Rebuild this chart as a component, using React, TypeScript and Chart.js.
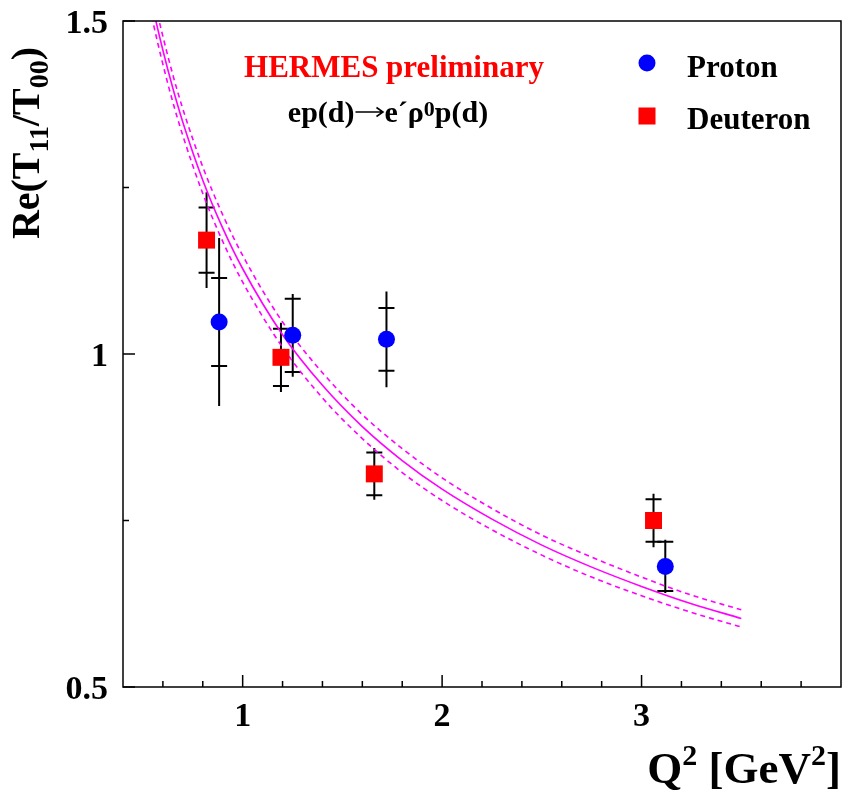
import React, { useEffect, useRef } from 'react';
import { Chart, registerables } from 'chart.js';

Chart.register(...registerables);

// ---- data ----
const protonQ2 = [0.882, 1.251, 1.721, 3.119];
const protonVal = [1.048, 1.028, 1.022, 0.681];
const protonStat = [0.066, 0.055, 0.047, 0.037];
const protonTot = [0.126, 0.062, 0.072, 0.040];

const deutQ2 = [0.819, 1.192, 1.660, 3.060];
const deutVal = [1.171, 0.995, 0.820, 0.750];
const deutStat = [0.049, 0.043, 0.032, 0.032];
const deutTot = [0.072, 0.052, 0.039, 0.040];

const curveQ2 = [0.5, 0.55, 0.6, 0.65, 0.7, 0.8, 0.9, 1.0, 1.2, 1.4, 1.6, 1.8, 2.0, 2.25, 2.5, 2.75, 3.0, 3.25, 3.5];
const curveFit = [1.595, 1.520, 1.456, 1.399, 1.348, 1.261, 1.189, 1.128, 1.029, 0.953, 0.891, 0.840, 0.797, 0.752, 0.713, 0.680, 0.651, 0.625, 0.603];
const curveUpper = [1.616, 1.541, 1.477, 1.419, 1.368, 1.281, 1.209, 1.148, 1.048, 0.972, 0.909, 0.858, 0.814, 0.768, 0.728, 0.695, 0.665, 0.638, 0.616];
const curveLower = [1.573, 1.499, 1.435, 1.378, 1.328, 1.241, 1.169, 1.108, 1.010, 0.934, 0.873, 0.822, 0.780, 0.736, 0.698, 0.665, 0.637, 0.612, 0.590];

const xTickLabels = [1, 2, 3];
const xMinorTicks = [0.6, 0.8, 1.2, 1.4, 1.6, 1.8, 2.2, 2.4, 2.6, 2.8, 3.2, 3.4, 3.6, 3.8];
const yTickLabels = [0.5, 1, 1.5];
const yMinorTicks = [0.75, 1.25];

const FONT = '"Liberation Serif", "Times New Roman", serif';
const BLUE = '#0000ff';
const RED = '#ff0000';
const MAGENTA = '#ff00ff';

type Seg = { t: string; size: number; dy: number; arrow?: number };

function segWidth(ctx: CanvasRenderingContext2D, segs: Seg[]) {
  let w = 0;
  for (const s of segs) {
    if (s.arrow) { w += s.arrow; continue; }
    ctx.font = `bold ${s.size}px ${FONT}`;
    w += ctx.measureText(s.t).width;
  }
  return w;
}

function drawSegs(ctx: CanvasRenderingContext2D, segs: Seg[], x: number, y: number) {
  let cx = x;
  ctx.textAlign = 'left';
  ctx.textBaseline = 'alphabetic';
  for (const s of segs) {
    if (s.arrow) {
      const ay = y + s.dy;
      ctx.save();
      ctx.strokeStyle = ctx.fillStyle as string;
      ctx.lineWidth = 1.6;
      ctx.beginPath();
      ctx.moveTo(cx + 1, ay);
      ctx.lineTo(cx + s.arrow - 2, ay);
      ctx.moveTo(cx + s.arrow - 8, ay - 4.5);
      ctx.lineTo(cx + s.arrow - 1.5, ay);
      ctx.lineTo(cx + s.arrow - 8, ay + 4.5);
      ctx.stroke();
      ctx.restore();
      cx += s.arrow;
      continue;
    }
    ctx.font = `bold ${s.size}px ${FONT}`;
    ctx.fillText(s.t, cx, y + s.dy);
    cx += ctx.measureText(s.t).width;
  }
}

const overlay = {
  id: 'overlay',
  beforeDatasetsDraw(chart: any) {
    const { ctx, scales } = chart;
    const x = scales.x, y = scales.y;
    ctx.save();
    ctx.strokeStyle = '#000';
    ctx.lineWidth = 2;
    const drawErr = (qs: number[], vs: number[], st: number[], tot: number[]) => {
      qs.forEach((q, i) => {
        const px = x.getPixelForValue(q);
        ctx.beginPath();
        ctx.moveTo(px, y.getPixelForValue(vs[i] + tot[i]));
        ctx.lineTo(px, y.getPixelForValue(vs[i] - tot[i]));
        for (const s of [st[i], -st[i]]) {
          const py = y.getPixelForValue(vs[i] + s);
          ctx.moveTo(px - 8, py);
          ctx.lineTo(px + 8, py);
        }
        ctx.stroke();
      });
    };
    drawErr(deutQ2, deutVal, deutStat, deutTot);
    drawErr(protonQ2, protonVal, protonStat, protonTot);
    ctx.restore();
  },
  afterDraw(chart: any) {
    const { ctx, scales, chartArea } = chart;
    const x = scales.x, y = scales.y;
    const { left, right, top, bottom } = chartArea;
    ctx.save();
    // frame
    ctx.strokeStyle = '#000';
    ctx.lineWidth = 1.5;
    ctx.strokeRect(left, top, right - left, bottom - top);
    // ticks (inward)
    ctx.beginPath();
    for (const v of xTickLabels) {
      const px = x.getPixelForValue(v);
      ctx.moveTo(px, bottom);
      ctx.lineTo(px, bottom - 12);
    }
    for (const v of xMinorTicks) {
      const px = x.getPixelForValue(v);
      ctx.moveTo(px, bottom);
      ctx.lineTo(px, bottom - 6);
    }
    for (const v of yTickLabels) {
      const py = y.getPixelForValue(v);
      ctx.moveTo(left, py);
      ctx.lineTo(left + 12, py);
    }
    for (const v of yMinorTicks) {
      const py = y.getPixelForValue(v);
      ctx.moveTo(left, py);
      ctx.lineTo(left + 6, py);
    }
    ctx.stroke();

    // tick labels
    ctx.fillStyle = '#000';
    ctx.font = `bold 34px ${FONT}`;
    ctx.textAlign = 'center';
    ctx.textBaseline = 'alphabetic';
    for (const v of xTickLabels) {
      ctx.fillText(String(v), x.getPixelForValue(v), bottom + 39);
    }
    ctx.textAlign = 'right';
    for (const v of yTickLabels) {
      ctx.fillText(String(v), left - 15, y.getPixelForValue(v) + 12);
    }

    // x title
    const xt: Seg[] = [
      { t: 'Q', size: 45, dy: 0 },
      { t: '2', size: 30, dy: -18 },
      { t: ' [GeV', size: 45, dy: 0 },
      { t: '2', size: 30, dy: -18 },
      { t: ']', size: 45, dy: 0 },
    ];
    const xw = segWidth(ctx, xt);
    drawSegs(ctx, xt, right - xw, 783);

    // y title (rotated)
    const yt: Seg[] = [
      { t: 'Re(T', size: 40, dy: 0 },
      { t: '11', size: 28, dy: 9 },
      { t: '/T', size: 40, dy: 0 },
      { t: '00', size: 28, dy: 9 },
      { t: ')', size: 40, dy: 0 },
    ];
    const yw = segWidth(ctx, yt);
    ctx.save();
    ctx.translate(39, 143);
    ctx.rotate(-Math.PI / 2);
    drawSegs(ctx, yt, -yw / 2, 0);
    ctx.restore();

    // annotation texts
    ctx.fillStyle = RED;
    ctx.font = `bold 31px ${FONT}`;
    ctx.textAlign = 'center';
    ctx.fillText('HERMES preliminary', 394, 77);
    ctx.fillStyle = '#000';
    const rx: Seg[] = [
      { t: 'ep(d)', size: 30, dy: 0 },
      { t: '\u2192', size: 30, dy: -10, arrow: 30 },
      { t: 'e\u00b4\u03c1', size: 30, dy: 0 },
      { t: '0', size: 22, dy: -6 },
      { t: 'p(d)', size: 30, dy: 0 },
    ];
    const rw = segWidth(ctx, rx);
    drawSegs(ctx, rx, 388 - rw / 2, 122);

    // legend
    ctx.fillStyle = BLUE;
    ctx.beginPath();
    ctx.arc(647, 63, 8.5, 0, Math.PI * 2);
    ctx.fill();
    ctx.fillStyle = RED;
    ctx.fillRect(638.5, 107.5, 17, 17);
    ctx.fillStyle = '#000';
    ctx.font = `bold 31px ${FONT}`;
    ctx.textAlign = 'left';
    ctx.fillText('Proton', 687, 77);
    ctx.fillText('Deuteron', 687, 129);
    ctx.restore();
  },
};

export default function App() {
  const ref = useRef<HTMLCanvasElement | null>(null);
  useEffect(() => {
    document.body.style.margin = '0';
    const canvas = ref.current!;
    const pts = (xs: number[], ys: number[]) => xs.map((q, i) => ({ x: q, y: ys[i] }));
    const curve = (ys: number[], dash: number[]) => ({
      type: 'line',
      data: pts(curveQ2, ys),
      showLine: true,
      pointRadius: 0,
      borderColor: MAGENTA,
      borderWidth: 1.6,
      borderDash: dash,
      cubicInterpolationMode: 'monotone',
      fill: false,
    });
    const chart = new Chart(canvas, {
      type: 'scatter',
      data: {
        datasets: [
          {
            label: 'Proton',
            data: pts(protonQ2, protonVal),
            pointStyle: 'circle',
            pointRadius: 8.5,
            backgroundColor: BLUE,
            borderWidth: 0,
          },
          {
            label: 'Deuteron',
            data: pts(deutQ2, deutVal),
            pointStyle: 'rect',
            pointRadius: 12,
            backgroundColor: RED,
            borderWidth: 0,
          },
          { label: 'fit', ...curve(curveFit, []) },
          { label: 'upper', ...curve(curveUpper, [5, 4]) },
          { label: 'lower', ...curve(curveLower, [5, 4]) },
        ] as any,
      },
      options: {
        animation: false,
        responsive: false,
        devicePixelRatio: 1,
        layout: { padding: { left: 123, top: 21, right: 5, bottom: 112 } },
        scales: {
          x: { type: 'linear', min: 0.4, max: 4.0, display: false },
          y: { type: 'linear', min: 0.5, max: 1.5, display: false },
        },
        plugins: {
          legend: { display: false },
          tooltip: { enabled: false },
        },
      },
      plugins: [overlay],
    });
    return () => chart.destroy();
  }, []);
  return (
    <div style={{ width: 853, height: 799, background: '#fff' }}>
      <canvas ref={ref} width={853} height={799} style={{ display: 'block' }} />
    </div>
  );
}
